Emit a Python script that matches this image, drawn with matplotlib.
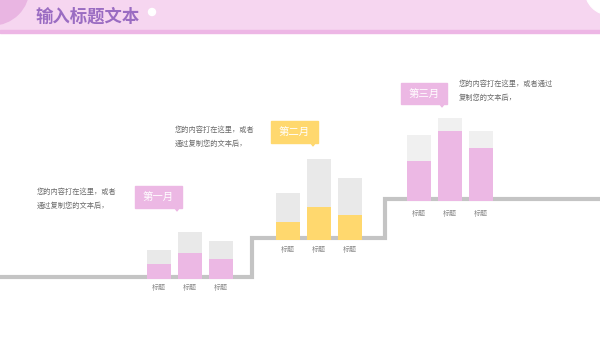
import matplotlib
matplotlib.use("Agg")
import matplotlib.pyplot as plt
from matplotlib.patches import Rectangle, Circle, Polygon

plt.rcParams['font.family'] = ['Noto Sans CJK SC', 'DejaVu Sans']

# data (bar heights in px units above each step)
months = ["第一月", "第二月", "第三月"]
bar_labels = ["标题", "标题", "标题"]
totals = [[29, 47, 38], [47, 81, 62], [66, 83, 70]]
filled = [[15, 26, 20], [18, 33, 25], [40, 70, 53]]
notes = ["您的内容打在这里，或者\n通过复制您的文本后，",
         "您的内容打在这里，或者\n通过复制您的文本后，",
         "您的内容打在这里，或者通过\n复制您的文本后，"]

PINK = "#ECB8E4"
YELLOW = "#FFD86E"
GREY = "#E9E9E9"
fill_colors = [PINK, YELLOW, PINK]
back_colors = [GREY, GREY, "#F0F0F0"]

fig = plt.figure(figsize=(6, 3.38), dpi=100)
ax = fig.add_axes([0, 0, 1, 1])
ax.set_xlim(0, 600)
ax.set_ylim(338, 0)
ax.axis("off")

# header
ax.add_patch(Rectangle((0, 0), 600, 30, color="#F6D6F0", zorder=0))
ax.add_patch(Rectangle((0, 30), 600, 3, color="#EDB6E5", zorder=1))
ax.add_patch(Circle((-8, -12), 37, color="#E9B5E2", zorder=2))
ax.add_patch(Circle((610, -10), 25, color="white", zorder=2))
ax.add_patch(Circle((152, 12), 3.5, color="white", zorder=2))
ax.text(35, 17, "输入标题文本", fontsize=12.5, fontweight="bold",
        color="#9A6CC2", va="center", ha="left", zorder=3)

# staircase line
step_x = [0, 252, 252, 385, 385, 600]
step_y = [277, 277, 238, 238, 199, 199]
ax.plot(step_x, step_y, color="#C4C4C4", lw=3, solid_joinstyle="miter", zorder=1)

bases = [279, 240, 201]
starts = [159, 288, 419]
label_y = [288, 250, 214]
for g in range(3):
    xs = [starts[g] + i * 30.8 for i in range(3)]
    ax.bar(xs, [-t for t in totals[g]], bottom=bases[g], width=24,
           color=back_colors[g], zorder=2)
    ax.bar(xs, [-f for f in filled[g]], bottom=bases[g], width=24,
           color=fill_colors[g], zorder=3)
    for x, lab in zip(xs, bar_labels):
        ax.text(x, label_y[g], lab, fontsize=5, color="#8A8A8A",
                ha="center", va="center")

# callouts
boxes = [(135, 186, 47, 22), (271, 121, 47, 22), (401, 83, 46, 21)]
box_colors = [PINK, YELLOW, PINK]
for (bx, by, bw, bh), c, m in zip(boxes, box_colors, months):
    ax.add_patch(Rectangle((bx, by), bw, bh, color=c, zorder=4))
    tx = bx + bw - 5
    ax.add_patch(Polygon([[tx - 2, by + bh], [tx + 2, by + bh], [tx, by + bh + 3]],
                         color=c, zorder=4))
    ax.text(bx + bw / 2, by + bh / 2, m, fontsize=7.5, color="white",
            ha="center", va="center", zorder=5)

note_pos = [(37, 199), (175, 137), (459, 91)]
for (nx, ny), t in zip(note_pos, notes):
    ax.text(nx, ny, t, fontsize=5.2, color="#6A6A6A", ha="left",
            va="center", linespacing=1.9)

fig.savefig("out.png", dpi=100)
